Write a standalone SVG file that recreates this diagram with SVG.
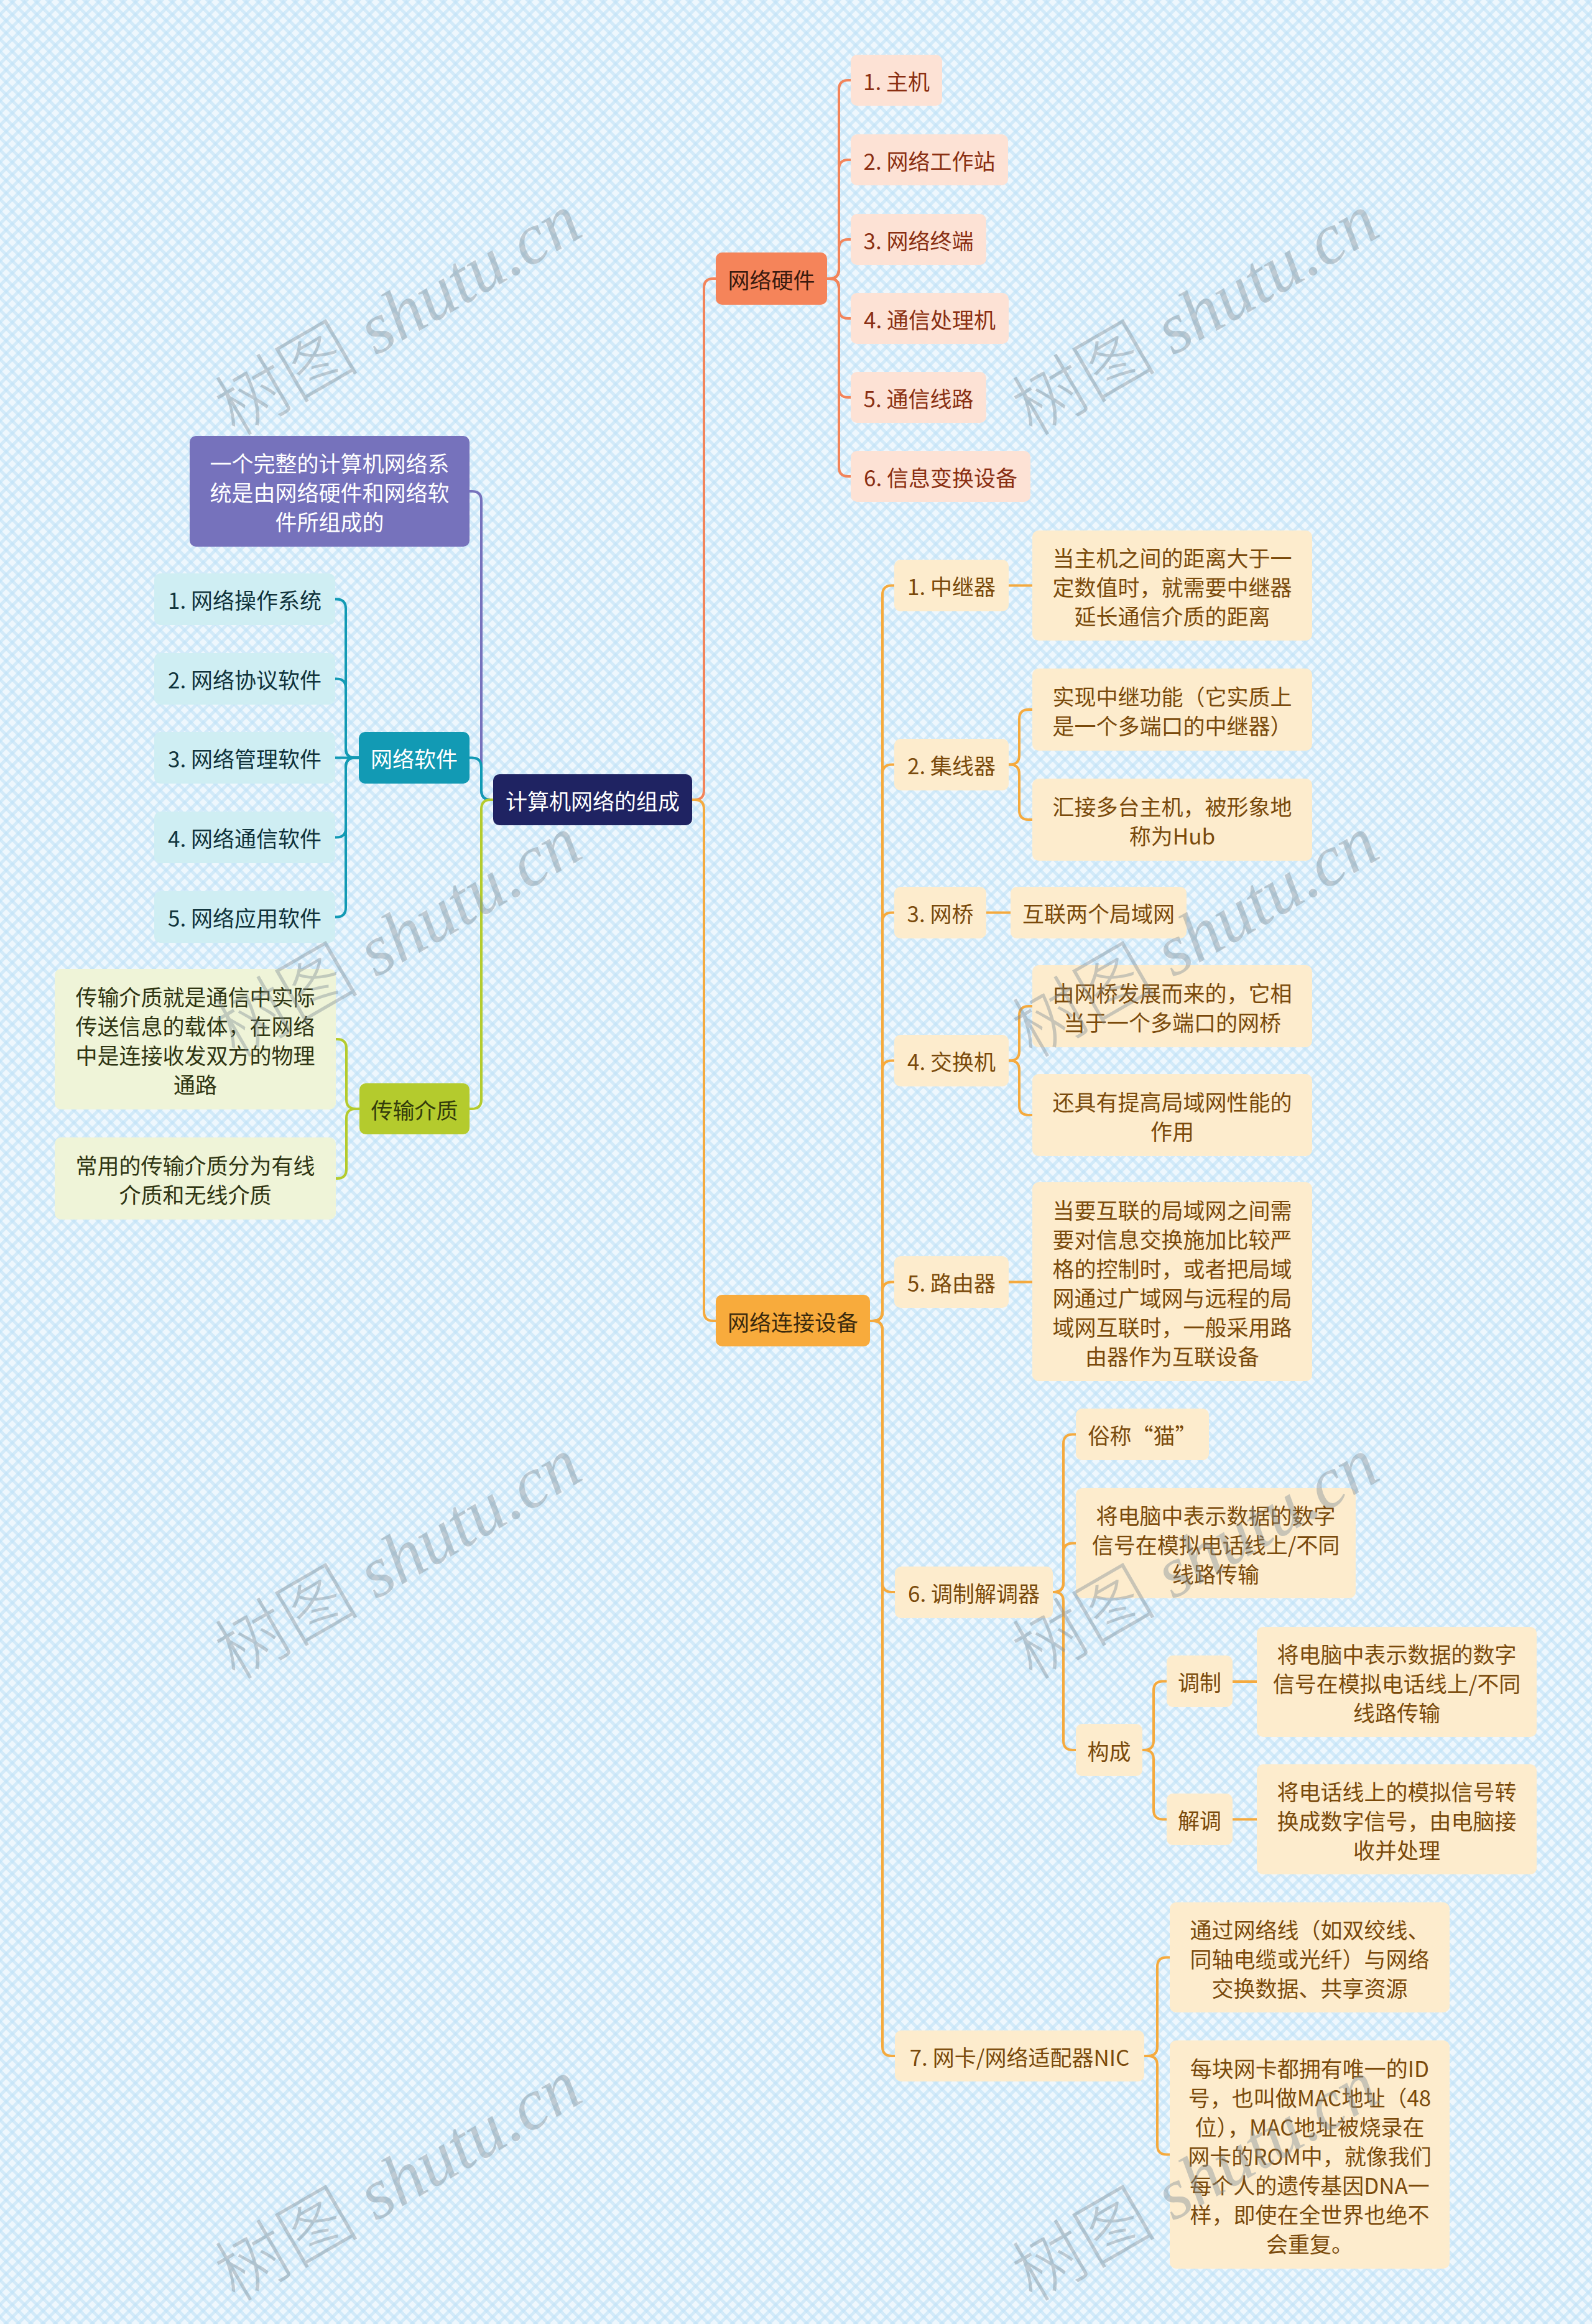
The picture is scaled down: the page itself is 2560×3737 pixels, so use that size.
<svg xmlns="http://www.w3.org/2000/svg" width="2560" height="3737" viewBox="0 0 2560 3737">
<defs>
<pattern id="bg" width="14" height="14" patternUnits="userSpaceOnUse" patternTransform="rotate(45)">
<rect width="14" height="14" fill="#eef7fd"/>
<rect width="14" height="5" fill="#bfe1f7" fill-opacity="0.6"/>
<rect width="5" height="14" fill="#bfe1f7" fill-opacity="0.6"/>
</pattern>
<style>
text{font-family:"Noto Sans CJK SC","Noto Sans",sans-serif;font-size:35px;text-anchor:middle;dominant-baseline:central}
.c path{fill:none;stroke-width:4;stroke-linecap:round}
.root rect{fill:#1f2362}.root text{fill:#ffffff}
.pur rect{fill:#7672bc}.pur text{fill:#ffffff}
.hw rect{fill:#f5845a}.hw text{fill:#3a1a0e}
.hwc rect{fill:#fde2d5}.hwc text{fill:#8a2f12}
.cd rect{fill:#f8ab3c}.cd text{fill:#3b2a0d}
.cdc rect{fill:#fdeccd}.cdc text{fill:#7a4a0b}
.sw rect{fill:#129ab4}.sw text{fill:#ffffff}
.swc rect{fill:#cfeef3}.swc text{fill:#10333b}
.tm rect{fill:#b4cb2d}.tm text{fill:#333c0c}
.tmc rect{fill:#eff4d8}.tmc text{fill:#2f3512}
.wm{font-family:"Liberation Serif","Noto Sans CJK SC",serif;font-size:116px;font-weight:300;fill:#7f8c97;fill-opacity:0.42;text-anchor:middle;dominant-baseline:auto}
.wm tspan{font-style:italic}
</style>
</defs>
<rect width="2560" height="3737" fill="url(#bg)"/>

<g id="connectors" class="c">
<g stroke="#7672bc"><path d="M793 1286 H789 Q774 1286 774 1271 V805 Q774 790 759 790 H755"/></g>
<g stroke="#129ab4"><path d="M793 1286 H789 Q774 1286 774 1271 V1233.5 Q774 1218.5 759 1218.5 H755"/>
<path d="M577 1218.5 H571 Q556 1218.5 556 1203.5 V978.5 Q556 963.5 541 963.5 H539"/>
<path d="M577 1218.5 H571 Q556 1218.5 556 1203.5 V1106.5 Q556 1091.5 541 1091.5 H539"/>
<path d="M577 1218.5 H539"/>
<path d="M577 1218.5 H571 Q556 1218.5 556 1233.5 V1331.5 Q556 1346.5 541 1346.5 H539"/>
<path d="M577 1218.5 H571 Q556 1218.5 556 1233.5 V1459.5 Q556 1474.5 541 1474.5 H539"/></g>
<g stroke="#b4cb2d"><path d="M793 1286 H789 Q774 1286 774 1301 V1768 Q774 1783 759 1783 H755"/>
<path d="M578 1783 H572 Q557 1783 557 1768 V1686 Q557 1671 542 1671 H540"/>
<path d="M578 1783 H572 Q557 1783 557 1798 V1880 Q557 1895 542 1895 H540"/></g>
<g stroke="#f3845a"><path d="M1113 1286 H1117 Q1132 1286 1132 1271 V463 Q1132 448 1147 448 H1151"/>
<path d="M1330 448 H1334 Q1349 448 1349 433 V144 Q1349 129 1364 129 H1368"/>
<path d="M1330 448 H1334 Q1349 448 1349 433 V272 Q1349 257 1364 257 H1368"/>
<path d="M1330 448 H1334 Q1349 448 1349 433 V400 Q1349 385 1364 385 H1368"/>
<path d="M1330 448 H1334 Q1349 448 1349 463 V497 Q1349 512 1364 512 H1368"/>
<path d="M1330 448 H1334 Q1349 448 1349 463 V624 Q1349 639 1364 639 H1368"/>
<path d="M1330 448 H1334 Q1349 448 1349 463 V751 Q1349 766 1364 766 H1368"/></g>
<g stroke="#f5aa3e"><path d="M1113 1286 H1117 Q1132 1286 1132 1301 V2109 Q1132 2124 1147 2124 H1151"/>
<path d="M1399 2124 H1404 Q1419 2124 1419 2109 V956.5 Q1419 941.5 1434 941.5 H1438"/>
<path d="M1399 2124 H1404 Q1419 2124 1419 2109 V1244.5 Q1419 1229.5 1434 1229.5 H1438"/>
<path d="M1399 2124 H1404 Q1419 2124 1419 2109 V1482.5 Q1419 1467.5 1434 1467.5 H1438"/>
<path d="M1399 2124 H1404 Q1419 2124 1419 2109 V1720.5 Q1419 1705.5 1434 1705.5 H1438"/>
<path d="M1399 2124 H1404 Q1419 2124 1419 2109 V2076.5 Q1419 2061.5 1434 2061.5 H1438"/>
<path d="M1399 2124 H1404 Q1419 2124 1419 2139 V2545 Q1419 2560 1434 2560 H1439"/>
<path d="M1399 2124 H1404 Q1419 2124 1419 2139 V3291 Q1419 3306 1434 3306 H1439"/>
<path d="M1622 941.5 H1660"/>
<path d="M1622 1229.5 H1624 Q1639 1229.5 1639 1214.5 V1156 Q1639 1141 1654 1141 H1660"/>
<path d="M1622 1229.5 H1624 Q1639 1229.5 1639 1244.5 V1303 Q1639 1318 1654 1318 H1660"/>
<path d="M1586 1467.5 H1625"/>
<path d="M1622 1705.5 H1624 Q1639 1705.5 1639 1690.5 V1633 Q1639 1618 1654 1618 H1660"/>
<path d="M1622 1705.5 H1624 Q1639 1705.5 1639 1720.5 V1778 Q1639 1793 1654 1793 H1660"/>
<path d="M1622 2061.5 H1660"/>
<path d="M1693 2560 H1695 Q1710 2560 1710 2545 V2321.5 Q1710 2306.5 1725 2306.5 H1730"/>
<path d="M1693 2560 H1695 Q1710 2560 1710 2545 V2496.5 Q1710 2481.5 1725 2481.5 H1730"/>
<path d="M1693 2560 H1695 Q1710 2560 1710 2575 V2799 Q1710 2814 1725 2814 H1730"/>
<path d="M1837 2814 H1840 Q1855 2814 1855 2799 V2718.5 Q1855 2703.5 1870 2703.5 H1876"/>
<path d="M1837 2814 H1840 Q1855 2814 1855 2829 V2910.5 Q1855 2925.5 1870 2925.5 H1876"/>
<path d="M1982 2704 H2021"/>
<path d="M1982 2925.5 H2021"/>
<path d="M1840 3306 H1846 Q1861 3306 1861 3291 V3162.5 Q1861 3147.5 1876 3147.5 H1881"/>
<path d="M1840 3306 H1846 Q1861 3306 1861 3321 V3449.5 Q1861 3464.5 1876 3464.5 H1881"/></g>
</g>

<g id="root" class="root"><rect x="793" y="1245" width="320" height="82" rx="10"/><text x="953" y="1286">计算机网络的组成</text></g>

<g id="intro" class="pur"><rect x="305" y="701" width="450" height="178" rx="10"/>
<text x="530"><tspan x="530" y="743">一个完整的计算机网络系</tspan><tspan x="530" y="790">统是由网络硬件和网络软</tspan><tspan x="530" y="837">件所组成的</tspan></text></g>

<g id="software" class="sw"><rect x="577" y="1177" width="178" height="83" rx="10"/><text x="666" y="1218.5">网络软件</text></g>
<g id="sw1" class="swc"><rect x="248" y="922" width="291" height="83" rx="10"/><text x="393.5" y="963.5">1. 网络操作系统</text></g>
<g id="sw2" class="swc"><rect x="248" y="1050" width="291" height="83" rx="10"/><text x="393.5" y="1091.5">2. 网络协议软件</text></g>
<g id="sw3" class="swc"><rect x="248" y="1177" width="291" height="83" rx="10"/><text x="393.5" y="1218.5">3. 网络管理软件</text></g>
<g id="sw4" class="swc"><rect x="248" y="1305" width="291" height="83" rx="10"/><text x="393.5" y="1346.5">4. 网络通信软件</text></g>
<g id="sw5" class="swc"><rect x="248" y="1433" width="291" height="83" rx="10"/><text x="393.5" y="1474.5">5. 网络应用软件</text></g>

<g id="media" class="tm"><rect x="578" y="1742" width="177" height="82" rx="10"/><text x="666.5" y="1783">传输介质</text></g>
<g id="media1" class="tmc"><rect x="88" y="1558" width="452" height="226" rx="10"/>
<text x="314"><tspan x="314" y="1600.5">传输介质就是通信中实际</tspan><tspan x="314" y="1647.5">传送信息的载体，在网络</tspan><tspan x="314" y="1694.5">中是连接收发双方的物理</tspan><tspan x="314" y="1741.5">通路</tspan></text></g>
<g id="media2" class="tmc"><rect x="88" y="1829" width="452" height="132" rx="10"/>
<text x="314"><tspan x="314" y="1871.5">常用的传输介质分为有线</tspan><tspan x="314" y="1918.5">介质和无线介质</tspan></text></g>

<g id="hardware" class="hw"><rect x="1151" y="406" width="179" height="84" rx="10"/><text x="1240.5" y="448">网络硬件</text></g>
<g id="hw1" class="hwc"><rect x="1368" y="88" width="147" height="82" rx="10"/><text x="1441.5" y="129">1. 主机</text></g>
<g id="hw2" class="hwc"><rect x="1368" y="216" width="253" height="82" rx="10"/><text x="1494.5" y="257">2. 网络工作站</text></g>
<g id="hw3" class="hwc"><rect x="1368" y="344" width="218" height="82" rx="10"/><text x="1477" y="385">3. 网络终端</text></g>
<g id="hw4" class="hwc"><rect x="1368" y="471" width="254" height="82" rx="10"/><text x="1495" y="512">4. 通信处理机</text></g>
<g id="hw5" class="hwc"><rect x="1368" y="598" width="218" height="82" rx="10"/><text x="1477" y="639">5. 通信线路</text></g>
<g id="hw6" class="hwc"><rect x="1368" y="725" width="289" height="82" rx="10"/><text x="1512.5" y="766">6. 信息变换设备</text></g>

<g id="devices" class="cd"><rect x="1151" y="2082" width="248" height="83" rx="10"/><text x="1275" y="2124">网络连接设备</text></g>

<g id="repeater" class="cdc"><rect x="1438" y="900" width="184" height="83" rx="10"/><text x="1530" y="941.5">1. 中继器</text></g>
<g id="repeater-d" class="cdc"><rect x="1660" y="853" width="450" height="177" rx="10"/>
<text x="1885"><tspan x="1885" y="894.5">当主机之间的距离大于一</tspan><tspan x="1885" y="941.5">定数值时，就需要中继器</tspan><tspan x="1885" y="988.5">延长通信介质的距离</tspan></text></g>

<g id="hub" class="cdc"><rect x="1438" y="1188" width="184" height="83" rx="10"/><text x="1530" y="1229.5">2. 集线器</text></g>
<g id="hub-d1" class="cdc"><rect x="1660" y="1075" width="450" height="132" rx="10"/>
<text x="1885"><tspan x="1885" y="1117.5">实现中继功能（它实质上</tspan><tspan x="1885" y="1164.5">是一个多端口的中继器）</tspan></text></g>
<g id="hub-d2" class="cdc"><rect x="1660" y="1252" width="450" height="132" rx="10"/>
<text x="1885"><tspan x="1885" y="1294.5">汇接多台主机，被形象地</tspan><tspan x="1885" y="1341.5">称为Hub</tspan></text></g>

<g id="bridge" class="cdc"><rect x="1438" y="1426" width="148" height="83" rx="10"/><text x="1512" y="1467.5">3. 网桥</text></g>
<g id="bridge-d" class="cdc"><rect x="1625" y="1426" width="283" height="83" rx="10"/><text x="1766.5" y="1467.5">互联两个局域网</text></g>

<g id="switch" class="cdc"><rect x="1438" y="1664" width="184" height="83" rx="10"/><text x="1530" y="1705.5">4. 交换机</text></g>
<g id="switch-d1" class="cdc"><rect x="1660" y="1552" width="450" height="132" rx="10"/>
<text x="1885"><tspan x="1885" y="1594.5">由网桥发展而来的，它相</tspan><tspan x="1885" y="1641.5">当于一个多端口的网桥</tspan></text></g>
<g id="switch-d2" class="cdc"><rect x="1660" y="1727" width="450" height="132" rx="10"/>
<text x="1885"><tspan x="1885" y="1769.5">还具有提高局域网性能的</tspan><tspan x="1885" y="1816.5">作用</tspan></text></g>

<g id="router" class="cdc"><rect x="1438" y="2020" width="184" height="83" rx="10"/><text x="1530" y="2061.5">5. 路由器</text></g>
<g id="router-d" class="cdc"><rect x="1660" y="1901" width="450" height="320" rx="10"/>
<text x="1885"><tspan x="1885" y="1943.5">当要互联的局域网之间需</tspan><tspan x="1885" y="1990.5">要对信息交换施加比较严</tspan><tspan x="1885" y="2037.5">格的控制时，或者把局域</tspan><tspan x="1885" y="2084.5">网通过广域网与远程的局</tspan><tspan x="1885" y="2131.5">域网互联时，一般采用路</tspan><tspan x="1885" y="2178.5">由器作为互联设备</tspan></text></g>

<g id="modem" class="cdc"><rect x="1439" y="2519" width="254" height="83" rx="10"/><text x="1566" y="2560.5">6. 调制解调器</text></g>
<g id="modem-a" class="cdc"><rect x="1730" y="2265" width="214" height="83" rx="10"/><text x="1837" y="2306.5">俗称“猫”</text></g>
<g id="modem-b" class="cdc"><rect x="1730" y="2393" width="450" height="177" rx="10"/>
<text x="1955"><tspan x="1955" y="2434.5">将电脑中表示数据的数字</tspan><tspan x="1955" y="2481.5">信号在模拟电话线上/不同</tspan><tspan x="1955" y="2528.5">线路传输</tspan></text></g>
<g id="modem-c" class="cdc"><rect x="1730" y="2772" width="107" height="84" rx="10"/><text x="1783.5" y="2814">构成</text></g>
<g id="mod" class="cdc"><rect x="1876" y="2662" width="106" height="83" rx="10"/><text x="1929" y="2703.5">调制</text></g>
<g id="mod-d" class="cdc"><rect x="2021" y="2616" width="450" height="177" rx="10"/>
<text x="2246"><tspan x="2246" y="2657.5">将电脑中表示数据的数字</tspan><tspan x="2246" y="2704.5">信号在模拟电话线上/不同</tspan><tspan x="2246" y="2751.5">线路传输</tspan></text></g>
<g id="demod" class="cdc"><rect x="1876" y="2884" width="106" height="83" rx="10"/><text x="1929" y="2925.5">解调</text></g>
<g id="demod-d" class="cdc"><rect x="2021" y="2837" width="450" height="177" rx="10"/>
<text x="2246"><tspan x="2246" y="2878.5">将电话线上的模拟信号转</tspan><tspan x="2246" y="2925.5">换成数字信号，由电脑接</tspan><tspan x="2246" y="2972.5">收并处理</tspan></text></g>

<g id="nic" class="cdc"><rect x="1439" y="3265" width="401" height="82" rx="10"/><text x="1639.5" y="3306">7. 网卡/网络适配器NIC</text></g>
<g id="nic-d1" class="cdc"><rect x="1881" y="3059" width="450" height="177" rx="10"/>
<text x="2106"><tspan x="2106" y="3100.5">通过网络线（如双绞线、</tspan><tspan x="2106" y="3147.5">同轴电缆或光纤）与网络</tspan><tspan x="2106" y="3194.5">交换数据、共享资源</tspan></text></g>
<g id="nic-d2" class="cdc"><rect x="1881" y="3281" width="450" height="367" rx="10"/>
<text x="2106"><tspan x="2106" y="3323.5">每块网卡都拥有唯一的ID</tspan><tspan x="2106" y="3370.5">号，也叫做MAC地址（48</tspan><tspan x="2106" y="3417.5">位），MAC地址被烧录在</tspan><tspan x="2106" y="3464.5">网卡的ROM中，就像我们</tspan><tspan x="2106" y="3511.5">每个人的遗传基因DNA一</tspan><tspan x="2106" y="3558.5">样，即使在全世界也绝不</tspan><tspan x="2106" y="3605.5">会重复。</tspan></text></g>

<g id="watermarks">
<text class="wm" x="660" y="540" transform="rotate(-30 660 540)">树图 <tspan>shutu.cn</tspan></text>
<text class="wm" x="1942" y="540" transform="rotate(-30 1942 540)">树图 <tspan>shutu.cn</tspan></text>
<text class="wm" x="660" y="1540" transform="rotate(-30 660 1540)">树图 <tspan>shutu.cn</tspan></text>
<text class="wm" x="1942" y="1540" transform="rotate(-30 1942 1540)">树图 <tspan>shutu.cn</tspan></text>
<text class="wm" x="660" y="2540" transform="rotate(-30 660 2540)">树图 <tspan>shutu.cn</tspan></text>
<text class="wm" x="1942" y="2540" transform="rotate(-30 1942 2540)">树图 <tspan>shutu.cn</tspan></text>
<text class="wm" x="660" y="3540" transform="rotate(-30 660 3540)">树图 <tspan>shutu.cn</tspan></text>
<text class="wm" x="1942" y="3540" transform="rotate(-30 1942 3540)">树图 <tspan>shutu.cn</tspan></text>
</g>
</svg>
